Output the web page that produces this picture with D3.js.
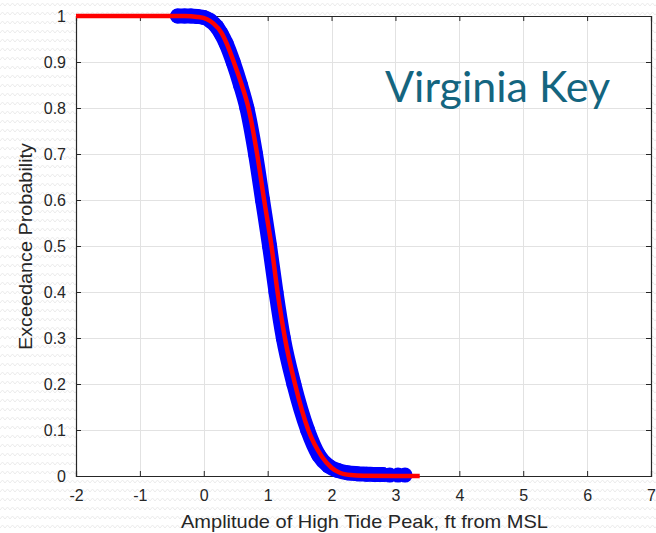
<!DOCTYPE html>
<html>
<head>
<meta charset="utf-8">
<script src="https://cdn.jsdelivr.net/npm/d3@7"></script>
<style>
  html, body { margin: 0; padding: 0; background: #ffffff; }
  svg { display: block; }
</style>
</head>
<body>
<script>
// ---- data ----
const xTicks = [-2, -1, 0, 1, 2, 3, 4, 5, 6, 7];
const xTickLabels = ["-2", "-1", "0", "1", "2", "3", "4", "5", "6", "7"];
const yTicks = [0, 0.1, 0.2, 0.3, 0.4, 0.5, 0.6, 0.7, 0.8, 0.9, 1];
const yTickLabels = ["0", "0.1", "0.2", "0.3", "0.4", "0.5", "0.6", "0.7", "0.8", "0.9", "1"];

// empirical exceedance points (blue markers)
const blueX = [-0.41, -0.3, -0.2, -0.1, 0.0, 0.1, 0.2, 0.27, 0.35, 0.46, 0.575, 0.675, 0.81, 0.92, 1.03, 1.13, 1.245, 1.41, 1.625, 1.8, 1.95, 2.1, 2.25, 2.4, 2.55, 2.7, 2.8, 2.91, 3.04, 3.15];
const blueP = [1, 1, 1, 0.999, 0.997, 0.99, 0.977, 0.962, 0.94, 0.9, 0.85, 0.8, 0.7, 0.6, 0.5, 0.4, 0.3, 0.2, 0.1, 0.045, 0.022, 0.012, 0.007, 0.005, 0.004, 0.003, 0.003, 0.002, 0.002, 0.002];

// fitted exceedance curve (red line)
const redX = [-2, -0.3, -0.1, 0.05, 0.15, 0.28, 0.36, 0.47, 0.595, 0.70, 0.835, 0.945, 1.06, 1.155, 1.27, 1.428, 1.636, 1.85, 2.0, 2.13, 2.3, 2.5, 3.38];
const redP = [1, 1, 0.998, 0.993, 0.984, 0.963, 0.94, 0.9, 0.85, 0.8, 0.7, 0.6, 0.5, 0.4, 0.3, 0.2, 0.1, 0.042, 0.018, 0.007, 0.002, 0.0005, 0];

const title = "Virginia Key";
const xLabel = "Amplitude of High Tide Peak, ft from MSL";
const yLabel = "Exceedance Probability";

// ---- layout ----
const W = 656, H = 533;
const L = 76, R = 651, T = 16, B = 476;

const svg = d3.select("body").append("svg").attr("width", W).attr("height", H);

// background pattern (light wavy texture)
const defs = svg.append("defs");
const pat = defs.append("pattern").attr("id", "bgpat")
  .attr("patternUnits", "userSpaceOnUse").attr("width", 10).attr("height", 9);
pat.append("rect").attr("width", 10).attr("height", 9).attr("fill", "#ffffff");
pat.append("path").attr("d", "M0,6 L2.5,3 L5,6 L7.5,3 L10,6")
  .attr("fill", "none").attr("stroke", "#ececec").attr("stroke-width", 1);
svg.append("rect").attr("width", W).attr("height", H).attr("fill", "url(#bgpat)");

const x = d3.scaleLinear().domain([-2, 7]).range([L, R]);
const y = d3.scaleLinear().domain([0, 1]).range([B, T]);

// plot area
svg.append("rect").attr("x", L).attr("y", T).attr("width", R - L).attr("height", B - T).attr("fill", "#ffffff");

// grid
const grid = svg.append("g").attr("stroke", "#e2e2e2").attr("stroke-width", 1);
grid.selectAll("line.vx").data(xTicks.slice(1, -1)).join("line")
  .attr("x1", d => Math.round(x(d)) + 0.5).attr("x2", d => Math.round(x(d)) + 0.5)
  .attr("y1", T).attr("y2", B);
grid.selectAll("line.hy").data(yTicks.slice(1, -1)).join("line")
  .attr("y1", d => Math.round(y(d)) + 0.5).attr("y2", d => Math.round(y(d)) + 0.5)
  .attr("x1", L).attr("x2", R);

// axes via d3 axis generators (MATLAB-style inward ticks on all four sides)
const axColor = "#262626";
const tickFont = "Liberation Sans, Arial, sans-serif";

const gB = svg.append("g").attr("transform", `translate(0,${B})`)
  .call(d3.axisBottom(x).tickValues(xTicks).tickSize(-5).tickFormat((d, i) => xTickLabels[i]));
const gT = svg.append("g").attr("transform", `translate(0,${T})`)
  .call(d3.axisTop(x).tickValues(xTicks).tickSize(-5).tickFormat(""));
const gL = svg.append("g").attr("transform", `translate(${L},0)`)
  .call(d3.axisLeft(y).tickValues(yTicks).tickSize(-5).tickFormat((d, i) => yTickLabels[i]));
const gR = svg.append("g").attr("transform", `translate(${R},0)`)
  .call(d3.axisRight(y).tickValues(yTicks).tickSize(-5).tickFormat(""));

[gB, gT, gL, gR].forEach(g => {
  g.selectAll(".domain").attr("stroke", axColor).attr("stroke-width", 1.2);
  g.selectAll(".tick line").attr("stroke", axColor).attr("stroke-width", 1);
  g.selectAll("text").attr("fill", "#262626").style("font-family", tickFont).style("font-size", "16px");
});
gB.selectAll(".tick text").attr("dy", "0.71em").attr("y", 14);
gL.selectAll(".tick text").attr("x", -10);

// blue markers: dense samples drawn as a chain of overlapping circles
const blue = blueX.map((v, i) => ({ x: v, p: blueP[i] }));
const r = 7.5;
const denseLine = d3.line().x(d => x(d.x)).y(d => y(d.p)).curve(d3.curveMonotoneX);
svg.append("path").datum(blue.filter(d => d.x <= 2.8))
  .attr("d", denseLine).attr("fill", "none").attr("stroke", "#0000ff")
  .attr("stroke-width", 2 * r).attr("stroke-linecap", "round").attr("stroke-linejoin", "round");
svg.append("g").selectAll("circle").data(blue).join("circle")
  .attr("cx", d => x(d.x)).attr("cy", d => y(d.p)).attr("r", r).attr("fill", "#0000ff");

// red fitted curve
const red = redX.map((v, i) => ({ x: v, p: redP[i] }));
svg.append("path").datum(red)
  .attr("d", d3.line().x(d => x(d.x)).y(d => y(d.p)).curve(d3.curveMonotoneX))
  .attr("fill", "none").attr("stroke", "#ff0000").attr("stroke-width", 4.5)
  .attr("stroke-linejoin", "round");

// axis labels
svg.append("text").attr("x", (L + R) / 2 + 1).attr("y", 528)
  .attr("text-anchor", "middle").attr("fill", "#262626")
  .attr("textLength", 367).attr("lengthAdjust", "spacingAndGlyphs")
  .style("font-family", tickFont).style("font-size", "18.5px").text(xLabel);
svg.append("text").attr("transform", "translate(32,246.5) rotate(-90)")
  .attr("text-anchor", "middle").attr("fill", "#262626")
  .attr("textLength", 207).attr("lengthAdjust", "spacingAndGlyphs")
  .style("font-family", tickFont).style("font-size", "17.5px").text(yLabel);

// title annotation
const t = svg.append("text").attr("x", 385).attr("y", 102)
  .attr("fill", "#14657f").style("font-family", "Lato, 'Open Sans', sans-serif")
  .style("font-size", "43px").text(title);
const tw = t.node().getComputedTextLength();
if (Math.abs(tw - 226) > 3) t.attr("textLength", 226).attr("lengthAdjust", "spacingAndGlyphs");
</script>
</body>
</html>
